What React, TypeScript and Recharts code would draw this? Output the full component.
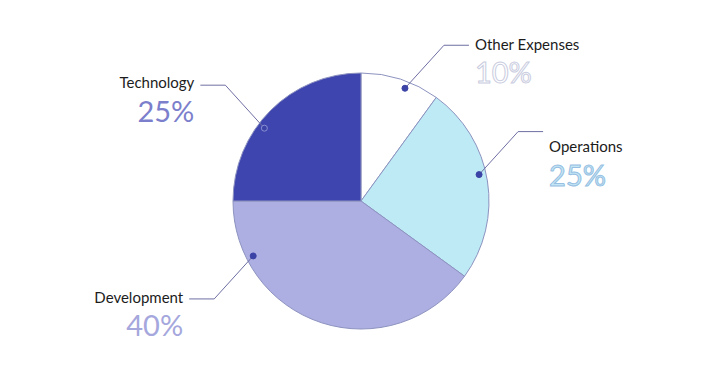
import React from "react";
import { PieChart, Pie, Cell } from "recharts";

const categories = ["Other Expenses", "Operations", "Development", "Technology"];
const values = [10, 25, 40, 25];
const percentLabels = ["10%", "25%", "40%", "25%"];

const sliceColors = ["#ffffff", "#bdeaf5", "#adaee1", "#3f45ae"];
const pctFill = ["#ffffff", "#c4e6f5", "#a5a7dd", "#7c7fcc"];
const pctStroke = ["#c9cce0", "#96bfe2", "none", "none"];

// label layout: dot angle (deg), direction of leader line, text baseline offsets
const labelLayout = [
  { angle: 68.7, sx: 1, sy: -1, nameDy: 5, pctDy: 38 },
  { angle: 12.6, sx: 1, sy: -1, nameDy: 20, pctDy: 54 },
  { angle: -153, sx: -1, sy: 1, nameDy: 4, pctDy: 37 },
  { angle: 143, sx: -1, sy: -1, nameDy: 3, pctDy: 37 },
];

const data = categories.map((name, i) => ({ name, value: values[i] }));

const RAD = Math.PI / 180;

const renderLabel = (props: any) => {
  const { cx, cy, outerRadius, index } = props;
  const lay = labelLayout[index];
  const r = outerRadius - 7;
  const x0 = cx + r * Math.cos(lay.angle * RAD);
  const y0 = cy - r * Math.sin(lay.angle * RAD);
  const x1 = x0 + lay.sx * 39;
  const y1 = y0 + lay.sy * 43;
  const x2 = x1 + lay.sx * 25;
  const tx = x2 + lay.sx * 6;
  const anchor = lay.sx > 0 ? "start" : "end";
  return (
    <g key={`lbl-${index}`}>
      <polyline
        points={`${x0},${y0} ${x1},${y1} ${x2},${y1}`}
        fill="none"
        stroke="#6e6fa3"
        strokeWidth={1}
      />
      <circle cx={x0} cy={y0} r={3} fill="#3b43a6" stroke={index === 3 ? "#8a90d4" : "#3b43a6"} strokeWidth={1} />
      <text
        x={tx}
        y={y1 + lay.nameDy}
        textAnchor={anchor}
        fontFamily="Lato, sans-serif"
        fontSize={15}
        fill="#1c1c1c"
      >
        {categories[index]}
      </text>
      <text
        x={tx}
        y={y1 + lay.pctDy}
        textAnchor={anchor}
        fontFamily="Lato, sans-serif"
        fontSize={29}
        fontWeight={400}
        fill={pctFill[index]}
        stroke={pctStroke[index]}
        strokeWidth={pctStroke[index] === "none" ? 0 : 1}
      >
        {percentLabels[index]}
      </text>
    </g>
  );
};

export default function App() {
  return (
    <div style={{ width: 720, height: 373, background: "#ffffff" }}>
      <style>{"body{margin:0}"}</style>
      <PieChart width={720} height={373} margin={{ top: 0, right: 0, bottom: 0, left: 0 }}>
        <Pie
          data={data}
          dataKey="value"
          nameKey="name"
          cx={361}
          cy={201}
          outerRadius={128}
          startAngle={90}
          endAngle={-270}
          stroke="#8d93c0"
          strokeWidth={1}
          label={renderLabel}
          labelLine={false}
          isAnimationActive={false}
        >
          {data.map((d, i) => (
            <Cell key={d.name} fill={sliceColors[i]} />
          ))}
        </Pie>
      </PieChart>
    </div>
  );
}
